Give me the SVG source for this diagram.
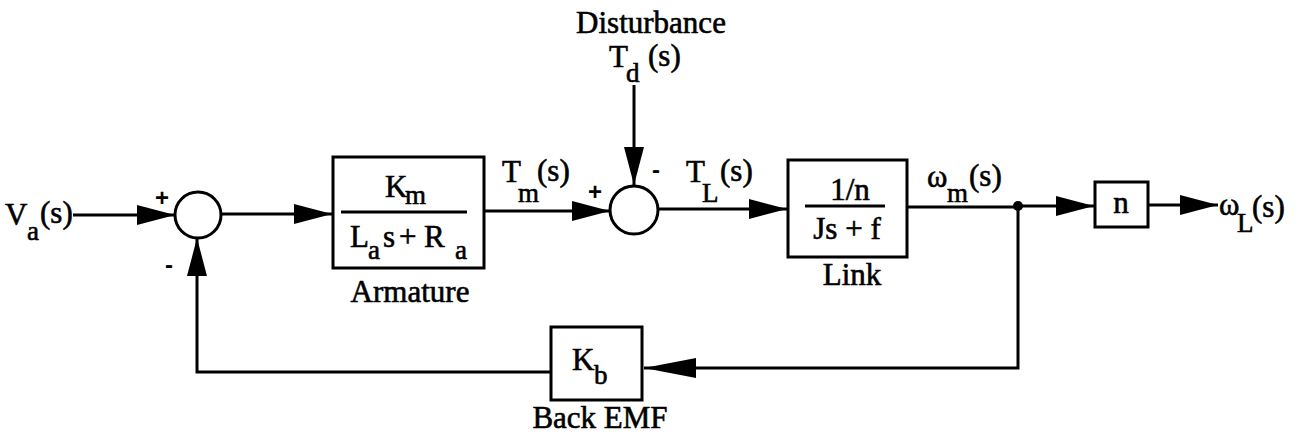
<svg xmlns="http://www.w3.org/2000/svg" width="1303" height="443" viewBox="0 0 1303 443">
<defs>
<style>
.t{font-family:"Liberation Serif","Times New Roman",serif;font-size:31px;fill:#000;stroke:#000;stroke-width:0.6}
.s{font-size:27px}
.c{text-anchor:middle}
.sg{font-family:"Liberation Sans",Arial,sans-serif;font-weight:bold;font-size:24px;fill:#000;text-anchor:middle}
.ln{stroke:#000;stroke-width:3;fill:none}
.box{fill:#fff;stroke:#000;stroke-width:3}
</style>
<marker id="ah" markerUnits="userSpaceOnUse" markerWidth="38" markerHeight="20" refX="38" refY="10" orient="auto">
<path d="M0,0 L38,10 L0,20 Z" fill="#000"/>
</marker>
<marker id="ahl" markerUnits="userSpaceOnUse" markerWidth="52" markerHeight="20" refX="52" refY="10" orient="auto">
<path d="M0,0 L52,10 L0,20 Z" fill="#000"/>
</marker>
</defs>
<rect width="1303" height="443" fill="#fff"/>

<g id="connectors">
<path class="ln" d="M73,215 L175,215" marker-end="url(#ah)"/>
<path class="ln" d="M221,214 L332,214" marker-end="url(#ah)"/>
<path class="ln" d="M485,211 L610,211" marker-end="url(#ah)"/>
<path class="ln" d="M634,85 L634,185" marker-end="url(#ah)"/>
<path class="ln" d="M658,209 L787,209" marker-end="url(#ah)"/>
<path class="ln" d="M908,207 L1018,207"/>
<path class="ln" d="M1018,206 L1094,206" marker-end="url(#ah)"/>
<path class="ln" d="M1149,205 L1218,205" marker-end="url(#ah)"/>
<path class="ln" d="M1018,206 L1018,368 L644,368" marker-end="url(#ahl)"/>
<path class="ln" d="M550,372 L197,372 L197,238" marker-end="url(#ah)"/>
</g>

<g id="input">
<text class="t" x="5" y="225">V</text>
<text class="t s" x="27" y="240">a</text>
<text class="t" x="40" y="223">(s)</text>
</g>

<g id="sum1">
<circle cx="198" cy="215" r="23" fill="#fff" stroke="#000" stroke-width="3"/>
<text class="sg" x="162" y="206">+</text>
<text class="sg" x="169" y="273">-</text>
</g>

<g id="armature">
<rect class="box" x="333" y="157" width="151" height="111"/>
<line class="ln" x1="341" y1="212" x2="467" y2="212"/>
<text class="t" x="385" y="197">K</text>
<text class="t s" x="405" y="204">m</text>
<text class="t" x="350" y="247">L</text>
<text class="t s" x="368" y="259">a</text>
<text class="t" x="383" y="247">s</text>
<text class="t" x="399" y="247">+</text>
<text class="t" x="424" y="247">R</text>
<text class="t s" x="455" y="259">a</text>
<text class="t c" x="410" y="302">Armature</text>
</g>

<g id="tm-label">
<text class="t" x="502" y="182">T</text>
<text class="t s" x="518" y="202">m</text>
<text class="t" x="537" y="181">(s)</text>
</g>

<g id="disturbance">
<text class="t c" x="651" y="33">Disturbance</text>
<text class="t" x="609" y="67">T</text>
<text class="t s" x="626" y="82">d</text>
<text class="t" x="648" y="66">(s)</text>
</g>

<g id="sum2">
<circle cx="634" cy="210" r="24" fill="#fff" stroke="#000" stroke-width="3"/>
<text class="sg" x="595" y="200">+</text>
<text class="sg" x="656" y="178">-</text>
</g>

<g id="tl-label">
<text class="t" x="686" y="182">T</text>
<text class="t s" x="702" y="202">L</text>
<text class="t" x="720" y="181">(s)</text>
</g>

<g id="link">
<rect class="box" x="788" y="160" width="119" height="97"/>
<line class="ln" x1="805" y1="206" x2="885" y2="206"/>
<text class="t c" x="850" y="200">1/n</text>
<text class="t c" x="847" y="239">Js + f</text>
<text class="t c" x="852" y="285">Link</text>
</g>

<g id="wm-label">
<text class="t" x="927" y="187">ω</text>
<text class="t s" x="947" y="202">m</text>
<text class="t" x="969" y="186">(s)</text>
</g>

<g id="junction">
<circle cx="1018" cy="206" r="5" fill="#000"/>
</g>

<g id="gear">
<rect class="box" x="1095" y="182" width="53" height="45"/>
<text class="t c" x="1121" y="213">n</text>
</g>

<g id="output">
<text class="t" x="1219" y="215">ω</text>
<text class="t s" x="1237" y="232">L</text>
<text class="t" x="1252" y="217">(s)</text>
</g>

<g id="backemf">
<rect class="box" x="551" y="327" width="91" height="73"/>
<text class="t" x="572" y="370">K</text>
<text class="t s" x="594" y="384">b</text>
<text class="t c" x="600" y="428">Back EMF</text>
</g>
</svg>
